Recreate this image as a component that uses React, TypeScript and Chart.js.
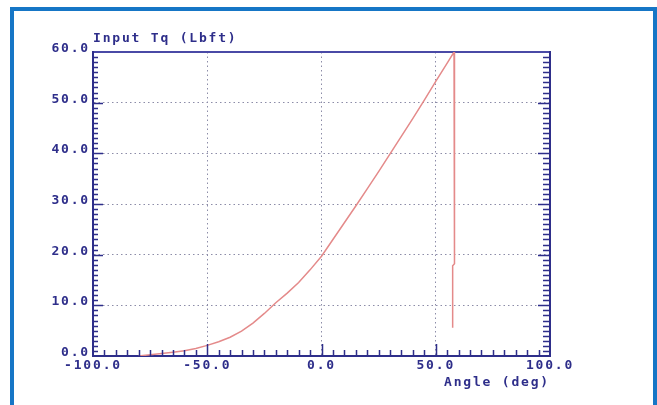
import React, { useEffect, useRef } from "react";
import { Chart, registerables } from "chart.js";

Chart.register(...registerables);

const angleDeg = [-80, -75, -70, -65, -60, -55, -50, -45, -40, -35, -30, -25, -20, -15, -10, -5, 0, 5, 10, 15, 20, 25, 30, 35, 40, 45, 50, 55, 58, 58.2, 58.2, 57.4, 57.4];
const inputTq = [0, 0.25, 0.5, 0.75, 1.05, 1.5, 2.1, 2.8, 3.7, 4.9, 6.5, 8.4, 10.5, 12.4, 14.5, 17.0, 19.7, 23.0, 26.3, 29.6, 33.0, 36.4, 39.9, 43.4, 46.9, 50.5, 54.2, 57.8, 60, 60, 18.2, 17.8, 5.6];

const xTickLabels = ["-100.0", "-50.0", "0.0", "50.0", "100.0"];
const yTickLabels = ["0.0", "10.0", "20.0", "30.0", "40.0", "50.0", "60.0"];
const xMinorTicks = Array.from({ length: 41 }, (_, i) => -100 + i * 5);
const yMinorTicks = Array.from({ length: 61 }, (_, i) => i);

const NAVY = "#2e2e8a";
const FONT = { family: "'DejaVu Sans Mono', monospace", size: 13, weight: "bold" as const };
const SPACING = "1.8px";

const spacingPlugin = {
  id: "spacing",
  beforeUpdate(chart: any) {
    chart.ctx.letterSpacing = SPACING;
  },
  beforeDraw(chart: any) {
    chart.ctx.letterSpacing = SPACING;
  },
};

const innerTicksPlugin = {
  id: "innerTicks",
  afterDraw(chart: any) {
    const { ctx, chartArea, scales } = chart;
    const xs = scales.x;
    const ys = scales.y;
    ctx.save();
    ctx.strokeStyle = NAVY;
    ctx.lineWidth = 1.5;
    ctx.beginPath();
    xMinorTicks.forEach((v) => {
      if (v === -100 || v === 100) return;
      const px = Math.round(xs.getPixelForValue(v)) + 0.5;
      const len = v % 50 === 0 ? 12 : 6;
      ctx.moveTo(px, chartArea.bottom);
      ctx.lineTo(px, chartArea.bottom - len);
    });
    yMinorTicks.forEach((v) => {
      if (v === 0 || v === 60) return;
      const py = Math.round(ys.getPixelForValue(v)) + 0.5;
      const lenL = v % 10 === 0 ? 10 : 5;
      const lenR = v % 10 === 0 ? 12 : 7;
      ctx.moveTo(chartArea.left, py);
      ctx.lineTo(chartArea.left + lenL, py);
      ctx.moveTo(chartArea.right, py);
      ctx.lineTo(chartArea.right - lenR, py);
    });
    ctx.stroke();
    ctx.restore();
  },
};

export default function App() {
  const ref = useRef<HTMLCanvasElement>(null);
  useEffect(() => {
    if (!ref.current) return;
    const chart = new Chart(ref.current, {
      type: "scatter",
      data: {
        datasets: [
          {
            data: angleDeg.map((a, i) => ({ x: a, y: inputTq[i] })),
            showLine: true,
            borderColor: "#e48a8a",
            borderWidth: 1.5,
            pointRadius: 0,
            tension: 0,
          },
        ],
      },
      options: {
        animation: false,
        responsive: false,
        layout: { padding: { left: 0, top: 31, right: 107, bottom: 0 } },
        plugins: {
          legend: { display: false },
          tooltip: { enabled: false },
          title: {
            display: true,
            text: "Input Tq (Lbft)",
            align: "start",
            fullSize: false,
            color: NAVY,
            font: FONT,
            padding: { top: 0, bottom: 5.4 },
          },
        },
        scales: {
          x: {
            type: "linear",
            position: "bottom",
            min: -100,
            max: 100,
            afterFit: (s: any) => {
              s.height = 49;
            },
            afterBuildTicks: (s: any) => {
              s.ticks = xTickLabels.map((t) => ({ value: parseFloat(t) }));
            },
            ticks: {
              color: NAVY,
              font: FONT,
              padding: 2,
              maxRotation: 0,
              autoSkip: false,
              callback: (v: any) => xTickLabels.find((t) => parseFloat(t) === v) ?? "",
            },
            grid: {
              drawTicks: false,
              color: "#8c8ca8",
              lineWidth: (c: any) => (c.tick && (c.tick.value === -100 || c.tick.value === 100) ? 0 : 1),
            },
            border: { color: NAVY, width: 2, dash: [1.5, 3] },
            title: {
              display: true,
              text: "Angle (deg)",
              align: "end",
              color: NAVY,
              font: FONT,
              padding: { top: 0, bottom: 15 },
            },
          },
          x2: {
            type: "linear",
            position: "top",
            min: -100,
            max: 100,
            afterFit: (s: any) => {
              s.height = 0;
            },
            ticks: { display: false },
            grid: { display: false, drawTicks: false },
            border: { color: "#4a4aa6", width: 2 },
          },
          y: {
            type: "linear",
            position: "left",
            min: 0,
            max: 60,
            afterFit: (s: any) => {
              s.width = 93;
            },
            afterBuildTicks: (s: any) => {
              s.ticks = yTickLabels.map((t) => ({ value: parseFloat(t) }));
            },
            ticks: {
              color: NAVY,
              font: FONT,
              padding: 3,
              labelOffset: -3.5,
              autoSkip: false,
              callback: (v: any) => yTickLabels.find((t) => parseFloat(t) === v) ?? "",
            },
            grid: {
              drawTicks: false,
              color: "#8c8ca8",
              lineWidth: (c: any) => (c.tick && (c.tick.value === 0 || c.tick.value === 60) ? 0 : 1),
            },
            border: { color: NAVY, width: 2, dash: [1.5, 3] },
          },
          y2: {
            type: "linear",
            position: "right",
            min: 0,
            max: 60,
            afterFit: (s: any) => {
              s.width = 0;
            },
            ticks: { display: false },
            grid: { display: false, drawTicks: false },
            border: { color: NAVY, width: 2 },
          },
        },
      },
      plugins: [spacingPlugin, innerTicksPlugin],
    } as any);
    return () => chart.destroy();
  }, []);

  return (
    <div style={{ position: "absolute", left: 0, top: 0, width: 657, height: 405, background: "#ffffff", overflow: "hidden" }}>
      <div
        style={{
          position: "absolute",
          left: 10,
          top: 7,
          width: 657 - 10 - 8,
          height: 420,
          border: "4px solid #1676c6",
          borderBottom: "none",
        }}
      />
      <canvas ref={ref} width={657} height={405} style={{ position: "absolute", left: 0, top: 0 }} />
    </div>
  );
}
